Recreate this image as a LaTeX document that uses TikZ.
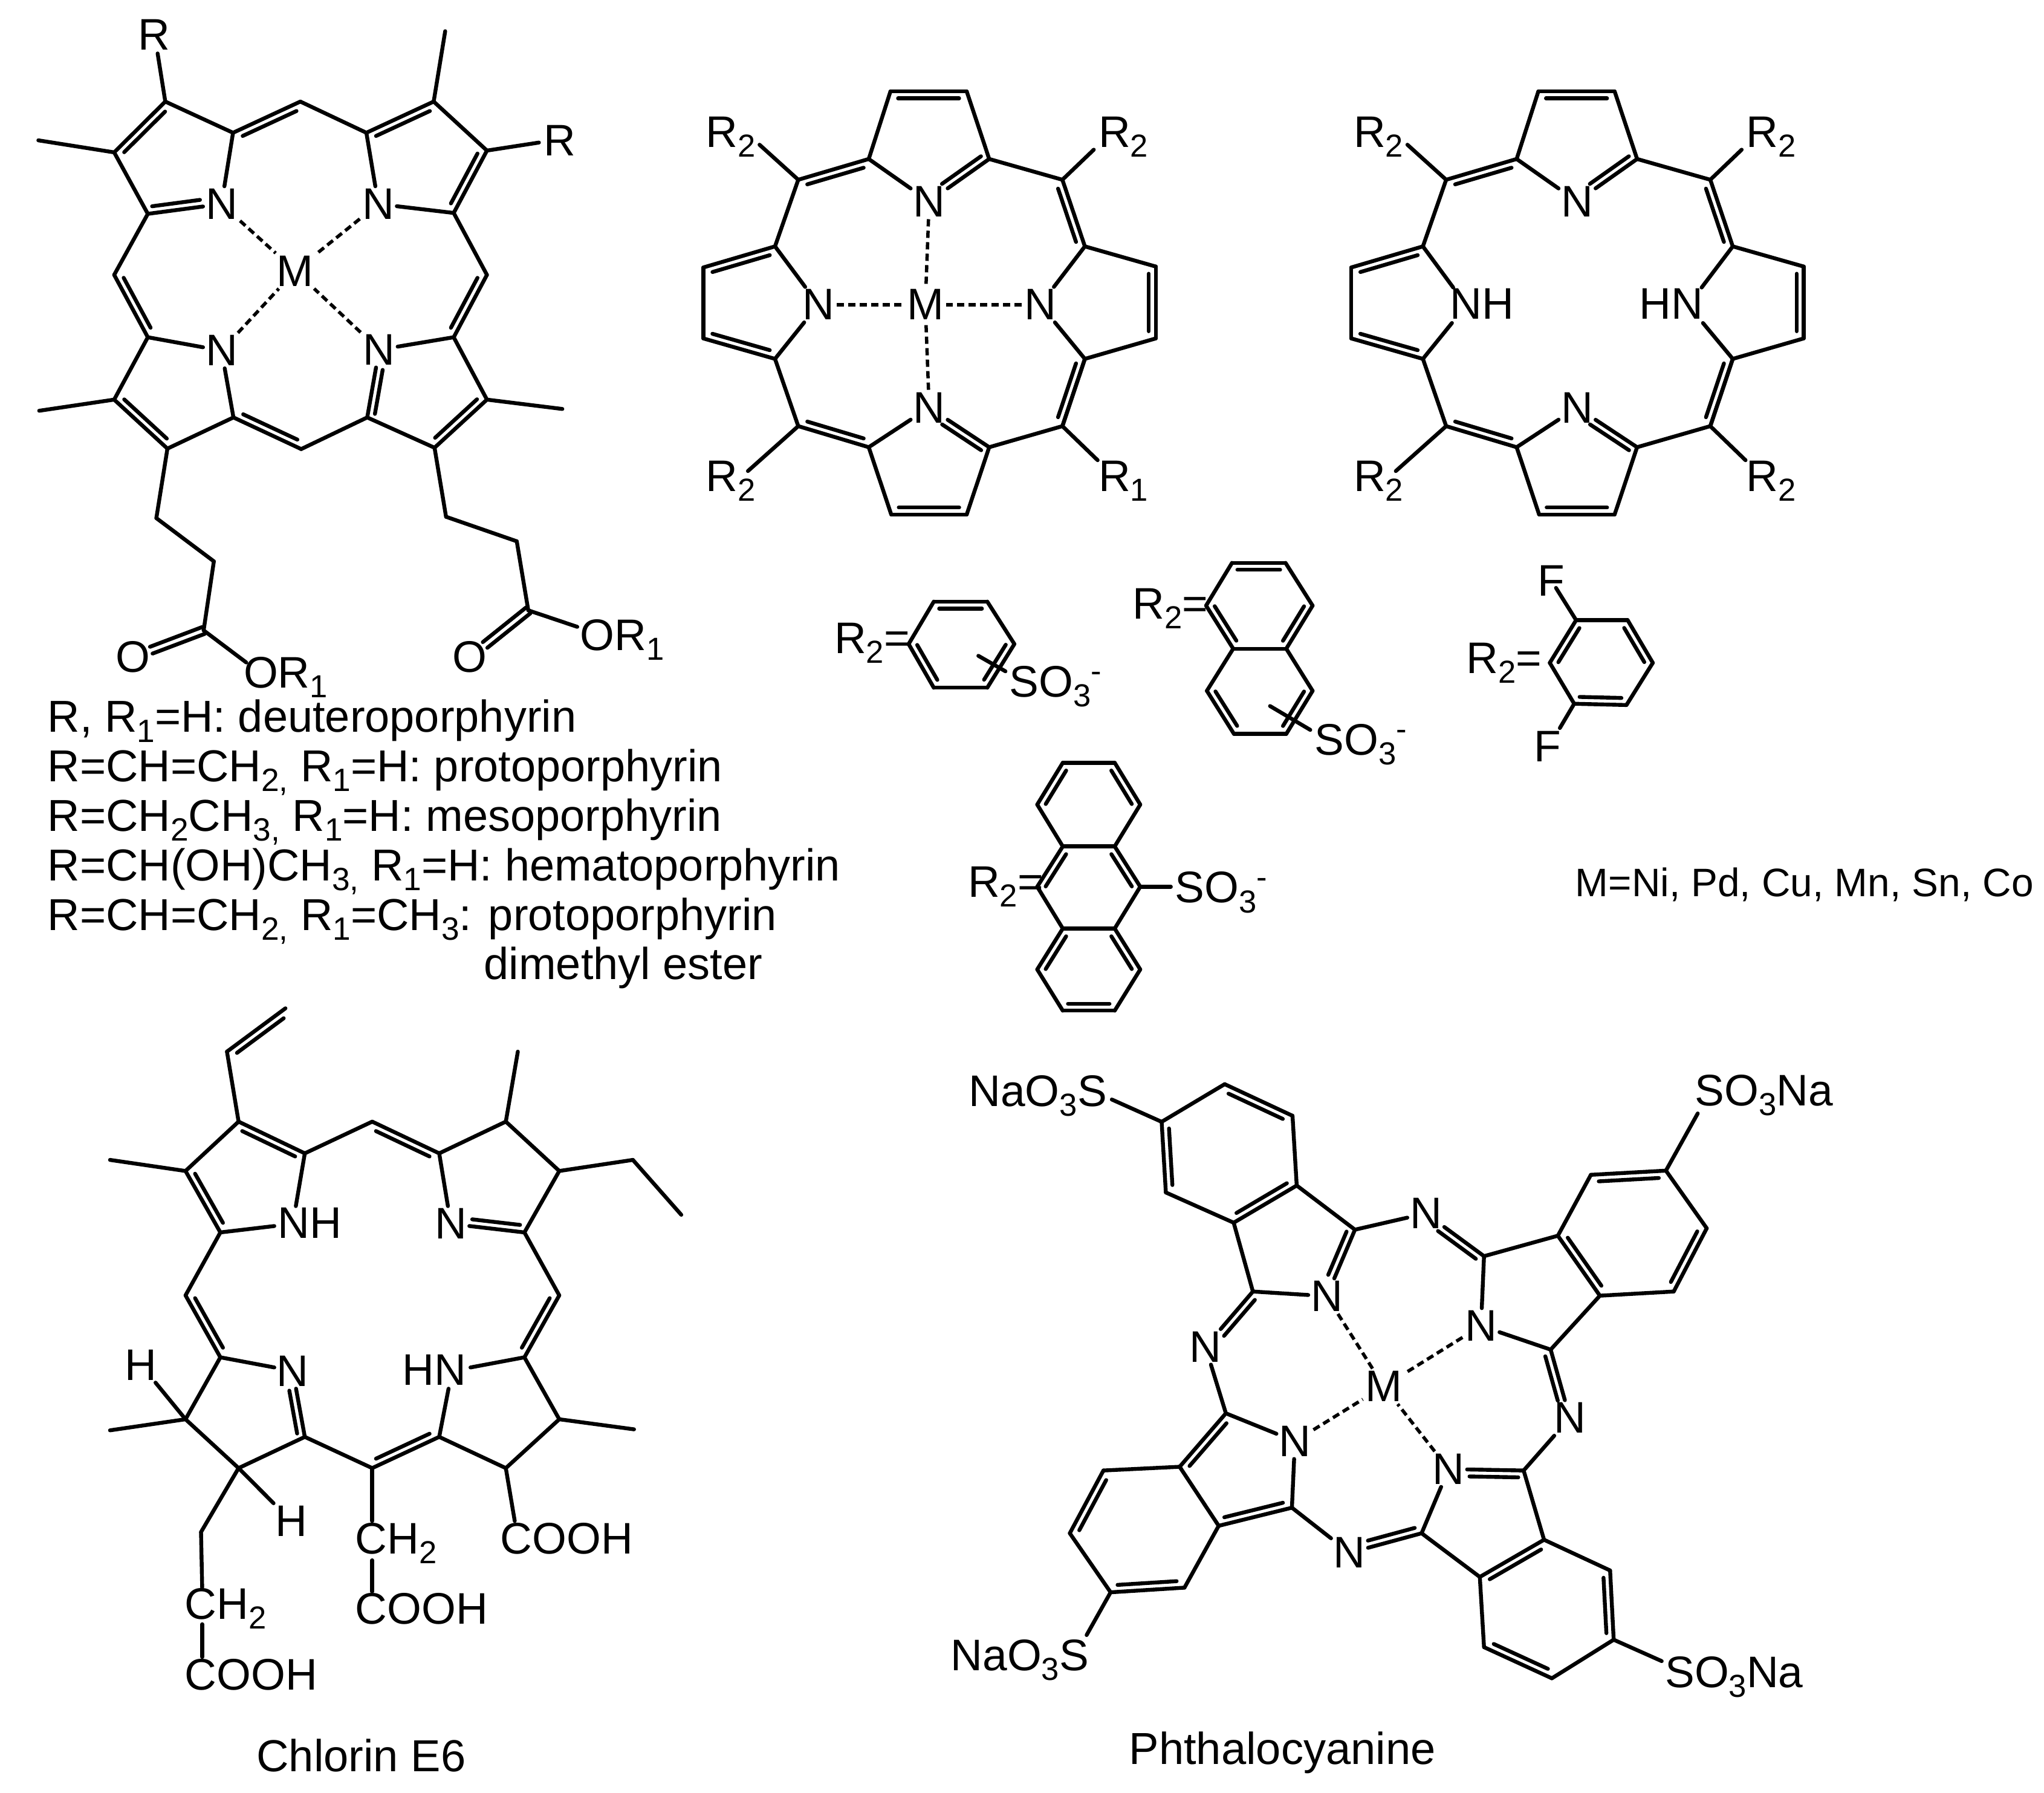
\documentclass[tikz,border=0pt]{standalone}
\usepackage{fontspec}
\usepackage{graphicx}
\setmainfont{Liberation Sans}
\usetikzlibrary{calc}
\newcommand\af{\fontsize{20.8}{24}\selectfont}
\newcommand\lsub[1]{\raisebox{-.22em}{\scalebox{.72}{#1}}}
\newcommand\lsup[1]{\raisebox{.34em}{\scalebox{.72}{#1}}}
\newcommand\dd{0.115cm}
\newcommand\hd{0.06cm}
\tikzset{
  zm/.style n args={4}{shift={(#1*0.01cm,-#2*0.01cm)},x=#3/1560*0.01cm,y=-#4/1560*0.01cm},
  bond/.style={line width=0.064cm,line cap=round,line join=round,black},
  dbond/.style={line width=0.055cm,line cap=butt,dash pattern=on 0.12cm off 0.07cm,black},
  atom/.style={inner sep=0.035cm,font=\af,text=black},
  lab/.style={inner sep=0pt,anchor=base west,xshift=-0.05cm,font=\af,text=black},
  blk/.style={inner sep=0pt,anchor=base west,font=\fontsize{21.05}{25}\selectfont,text=black},
  captxt/.style={inner sep=0pt,anchor=base west,xshift=-0.05cm,font=\fontsize{21.1}{25}\selectfont,text=black}
}
\newcommand\coords[1]{\foreach \n/\x/\y in {#1} {\coordinate (\n) at (\x,\y);}}
\newcommand\sgl[1]{\foreach \a/\b in {#1} {\draw[bond] (\a)--(\b);}}
\newcommand\dsh[1]{\foreach \a/\b in {#1} {\draw[dbond] (\a)--(\b);}}
% double bond, inner line on the left (dl) or right (dr) of the travel a->b
\newcommand\dl[1]{\foreach \a/\b in {#1} {\draw[bond] (\a)--(\b);
  \draw[bond] ($(\a)!.1!(\b)!\dd!90:(\b)$)--($(\a)!.9!(\b)!\dd!90:(\b)$);}}
\newcommand\dr[1]{\foreach \a/\b in {#1} {\draw[bond] (\a)--(\b);
  \draw[bond] ($(\a)!.1!(\b)!\dd!-90:(\b)$)--($(\a)!.9!(\b)!\dd!-90:(\b)$);}}
% the same towards a hetero atom, the inner line stops before the label
\newcommand\dnl[1]{\foreach \a/\b in {#1} {\draw[bond] (\a)--(\b);
  \draw[bond] ($(\a)!.07!(\b)!\dd!90:(\b)$)--($(\a)!.72!(\b)!\dd!90:(\b)$);}}
\newcommand\dnr[1]{\foreach \a/\b in {#1} {\draw[bond] (\a)--(\b);
  \draw[bond] ($(\a)!.07!(\b)!\dd!-90:(\b)$)--($(\a)!.72!(\b)!\dd!-90:(\b)$);}}
% carbonyl: two lines on either side of the axis
\newcommand\dco[2]{\draw[bond] ($(#1)!\hd!90:(#2)$)--($(#1)!.74!(#2)!\hd!90:(#2)$);
  \draw[bond] ($(#1)!\hd!-90:(#2)$)--($(#1)!.74!(#2)!\hd!-90:(#2)$);}
% the porphine skeleton of the two upper right molecules
\newcommand\porphring[1]{
  \coords{b1/583/100,b2/780/100,b3/527/318,b4/838/318,b5/345/385,b6/1027/385,b7/285/600,b8/1085/600,
    b9/100/668,b10/1268/665,b11/100/897,b12/1268/897,b13/285/963,b14/1085/963,b15/345/1180,b16/1027/1180,
    b17/527/1248,b18/838/1248,b19/585/1465,b20/780/1465,
    e1/245/272,e2/1108/288,e3/215/1325,e4/1118/1290}
  \node[lab] (rtl) at (113,280) {R\lsub{2}};
  \node[lab] (rtr) at (1127,280) {R\lsub{2}};
  \node[lab] (rbl) at (113,1390) {R\lsub{2}};
  \node[lab] (rbr) at (1127,1390) {R\lsub{#1}};
  \sgl{b1/b3,b3/nt,b4/b2,b6/b4,b5/b7,b7/nl,nl/b13,b13/b15,b17/nb,b17/b19,b18/b20,b18/b16,b16/b14,b14/nr,nr/b8,b8/b10,b11/b9,b12/b14,b5/e1,b6/e2,b15/e3,b16/e4}
  \dr{b1/b2,b5/b3,b6/b8,b10/b12,b14/b16,b20/b19,b17/b15,b13/b11,b9/b7}
  \dnr{b4/nt}
  \dnl{b18/nb}
}
\begin{document}
\begin{tikzpicture}
\useasboundingbox (0,0) rectangle (33.81,-29.64);

%% ---- metalloporphyrin, upper left
\begin{scope}[zm={0}{0}{1100}{1150}]
  \coords{a1/388/228,a2/268/342,a3/347/480,a4/547/298,a5/705/228,a6/860/298,a7/1143/338,a8/1018/228,
    a9/1065/478,a10/1143/617,a11/1065/757,a12/1143/897,a13/1020/1005,a14/862/937,a15/707/1008,a16/548/937,
    a17/393/1007,a18/268/897,a19/347/757,a20/268/617,
    ar/370/120,am1/90/315,am2/1045/70,arr/1265/320,am3/1320/918,am4/92/922,
    s1/367/1163,s2/502/1260,s3/478/1415,s4/578/1487,
    t1/1047/1160,t2/1213/1215,t3/1240/1370,t4/1355/1407}
  \node[atom] (n1) at (520,458) {N};
  \node[atom] (n2) at (888,458) {N};
  \node[atom] (n3) at (520,787) {N};
  \node[atom] (n4) at (890,785) {N};
  \node[atom] (m) at (693,608) {M};
  \node[atom] (o1) at (312,1475) {O};
  \node[atom] (o2) at (1103,1475) {O};
  \node[lab] (rt) at (330,112) {R};
  \node[lab] (rr) at (1283,350) {R};
  \node[lab] (or1) at (578,1544) {OR\lsub{1}};
  \node[lab] (or2) at (1368,1460) {OR\lsub{1}};
  \sgl{a1/a4,a2/a3,a3/a20,a4/n1,a5/a6,a8/a7,a6/n2,n2/a9,a9/a10,a11/n4,a11/a12,a13/a14,a15/a14,a16/n3,n3/a19,a19/a18,a17/a16,
    a1/ar,a2/am1,a8/am2,a7/arr,a12/am3,a18/am4,a17/s1,s1/s2,s2/s3,s3/s4,a13/t1,t1/t2,t2/t3,t3/t4}
  \dl{a1/a2,a20/a19,a18/a17,a16/a15}
  \dr{a4/a5,a6/a8,a7/a9,a10/a11,a12/a13}
  \dnl{a3/n1}
  \dnr{a14/n4}
  \dco{s3}{o1}
  \dco{t3}{o2}
  \dsh{n1/m,n2/m,n3/m,n4/m}
\end{scope}

%% ---- text block
\node[blk] (l1) at (0.78,-12.107) {R, R\lsub{1}=H: deuteroporphyrin};
\node[blk] (l2) at (0.78,-12.92) {R=CH=CH\lsub{2,} R\lsub{1}=H: protoporphyrin};
\node[blk] (l3) at (0.78,-13.74) {R=CH\lsub{2}CH\lsub{3,} R\lsub{1}=H: mesoporphyrin};
\node[blk] (l4) at (0.78,-14.56) {R=CH(OH)CH\lsub{3,} R\lsub{1}=H: hematoporphyrin};
\node[blk] (l5) at (0.78,-15.38) {R=CH=CH\lsub{2,} R\lsub{1}=CH\lsub{3}: protoporphyrin};
\node[blk] (l6) at (8.0,-16.19) {dimethyl ester};

%% ---- metal complex, upper middle
\begin{scope}[zm={1100}{100}{1000}{800}]
  \node[atom] (nt) at (683,455) {N};
  \node[atom] (nb) at (683,1120) {N};
  \node[atom] (nl) at (397,788) {N};
  \node[atom] (nr) at (970,788) {N};
  \node[atom] (mb) at (673,788) {M};
  \porphring{1}
  \dsh{nt/mb,nl/mb,nr/mb,nb/mb}
\end{scope}

%% ---- free base, upper right
\begin{scope}[zm={2172.3}{100}{1000}{800}]
  \node[atom] (nt) at (683,455) {N};
  \node[atom] (nb) at (683,1120) {N};
  \node[atom] (nl) at (397,790) {\phantom{N}};
  \node[atom] (nr) at (970,790) {\phantom{N}};
  \node[lab] (nhl) at (362,835) {NH};
  \node[lab] (hnr) at (850,835) {HN};
  \porphring{2}
\end{scope}

%% ---- R2 substituents
\begin{scope}[zm={1350}{880}{1000}{800}]
  % benzene
  \coords{h1/305/225,h2/443/225,h3/513/362,h4/443/503,h5/305/503,h6/240/362,hx/420/400,hy/490/450}
  \node[lab] (hr) at (55,393) {R\lsub{2}=};
  \node[lab] (hs) at (507,532) {SO\lsub{3}\lsup{-}};
  \sgl{h2/h3,h4/h5,h6/h1,hx/hy}
  \dr{h1/h2,h3/h4,h5/h6}
  % naphthalene
  \coords{i1/1075/100,i2/1213/100,i3/1283/238,i4/1215/377,i5/1078/377,i6/1008/238,i7/1283/513,i8/1215/652,i9/1080/652,i10/1010/513,ix/1173/562,iy/1277/639}
  \node[lab] (ir) at (825,280) {R\lsub{2}=};
  \node[lab] (is) at (1295,720) {SO\lsub{3}\lsup{-}};
  \sgl{i2/i3,i4/i5,i6/i1,i4/i7,i8/i9,i10/i5,ix/iy}
  \dr{i1/i2,i3/i4,i5/i6,i7/i8,i9/i10}
  % anthracene
  \coords{j1/638/745,j2/772/745,j3/838/880,j4/772/1015,j5/638/1015,j6/572/880,j7/838/1145,j8/772/1280,j9/638/1280,j10/572/1145,j11/838/1412,j12/772/1545,j13/638/1545,j14/572/1412,jy/917/1145}
  \node[lab] (jr) at (400,1178) {R\lsub{2}=};
  \node[lab] (js) at (935,1197) {SO\lsub{3}\lsup{-}};
  \sgl{j1/j2,j3/j4,j4/j5,j5/j6,j7/j8,j8/j9,j9/j10,j11/j12,j13/j14,j7/jy}
  \dr{j6/j1,j2/j3,j4/j7,j10/j5,j8/j11,j14/j9,j12/j13}
\end{scope}

\begin{scope}[zm={2381}{900}{1000}{660}]
  \coords{f1/355/298,f2/488/298,f3/553/465,f4/485/630,f5/350/625,f6/287/465,fa/303/172,fb/313/720}
  \node[lab] (fr) at (78,505) {R\lsub{2}=};
  \node[atom] (ft) at (290,144) {F};
  \node[atom] (fd) at (282,792) {F};
  \sgl{f1/f2,f3/f4,f5/f6,f1/fa,f5/fb}
  \dr{f6/f1,f2/f3,f4/f5}
  \node[inner sep=0pt,anchor=base west,font=\fontsize{18.7}{22}\selectfont] (mlist) at (352,1380) {M=Ni, Pd, Cu, Mn, Sn, Co};
\end{scope}

%% ---- chlorin e6
\begin{scope}[zm={150}{1650}{1000}{1300}]
  \coords{v2/503/22,v1/352/108,c1/382/247,c2/245/345,m1/50/323,c3/335/467,c4/553/310,c5/727/247,c6/900/310,
    c7/1072/247,m2/1103/108,c8/1210/345,et1/1400/323,et2/1525/432,c9/1120/467,c10/1210/592,c11/1120/715,
    c12/1210/838,m3/1403/858,c13/1072/935,c14/900/873,c15/727/935,c16/553/873,c17/335/715,c18/245/592,
    c19/245/838,m4/50/860,c20/382/935,g1/285/1062,g2/288/1172,g3/288/1245,g4/288/1310,
    k1/727/1040,k2/727/1118,k3/727/1180,q1/1095/1040}
  \node[atom] (cn1) at (522,450) {\phantom{N}};
  \node[atom] (cn2) at (930,450) {N};
  \node[atom] (cn3) at (522,742) {N};
  \node[atom] (cn4) at (933,742) {\phantom{N}};
  \node[lab] (cnh) at (490,478) {NH};
  \node[lab] (chn) at (812,770) {HN};
  \node[atom] (h1) at (130,730) {H};
  \node[atom] (h2) at (518,1040) {H};
  \node[lab] (ch1) at (250,1235) {CH\lsub{2}};
  \node[lab] (ch2) at (690,1105) {CH\lsub{2}};
  \node[lab] (co1) at (250,1375) {COOH};
  \node[lab] (co2) at (690,1245) {COOH};
  \node[lab] (co3) at (1065,1105) {COOH};
  \node[captxt] (chlorin) at (435,1538) {Chlorin E6};
  \sgl{v1/c1,c1/c2,c2/m1,c3/cn1,c4/cn1,c4/c5,c6/cn2,c6/c7,c7/m2,c7/c8,c8/et1,et1/et2,c8/c9,c9/c10,c11/cn4,c11/c12,c12/m3,c12/c13,c13/c14,c14/cn4,c15/c16,c16/c20,c20/c19,c19/c17,c17/cn3,c3/c18,c19/m4,c19/h1,c20/h2,c20/g1,g1/g2,g3/g4,c15/k1,k2/k3,c13/q1}
  \dl{c2/c3,c18/c17}
  \dr{v1/v2,c1/c4,c5/c6,c10/c11,c14/c15}
  \dnr{c9/cn2}
  \dnl{c16/cn3}
\end{scope}

%% ---- phthalocyanine
\begin{scope}[zm={1550}{1750}{1550}{1200}]
  \coords{p1/480/57,p2/593/125,p3/600/275,p4/495/355,p5/382/290,p6/375/138,p7/697/370,p8/527/503,p9/912/427,p10/482/765,
    p11/1035/383,p12/1105/512,p13/1228/503,p14/1283/367,p15/1215/243,p16/1090/252,p17/1023/628,p18/978/888,
    p19/808/1023,p20/905/1117,p21/1012/1037,p22/1122/1103,p23/1128/1252,p24/1025/1335,p25/912/1268,
    p26/592/968,p27/470/1007,p28/405/880,p29/278/888,p30/222/1023,p31/290/1150,p32/413/1140,
    sa/292/90,sb/1268/120,sc/250/1242,sd/1208/1298}
  \node[atom] (pn1) at (650,513) {N};
  \node[atom] (pn2) at (907,577) {N};
  \node[atom] (pn3) at (853,885) {N};
  \node[atom] (pn4) at (597,825) {N};
  \node[atom] (pnt) at (815,335) {N};
  \node[atom] (pnl) at (448,622) {N};
  \node[atom] (pnr) at (1055,775) {N};
  \node[atom] (pnb) at (688,1065) {N};
  \node[atom] (pm) at (745,707) {M};
  \node[lab] (la) at (58,105) {NaO\lsub{3}S};
  \node[lab] (lb) at (1268,103) {SO\lsub{3}Na};
  \node[lab] (lc) at (28,1318) {NaO\lsub{3}S};
  \node[lab] (ld) at (1218,1355) {SO\lsub{3}Na};
  \node[captxt] (phthalo) at (325,1520) {Phthalocyanine};
  \sgl{p1/p6,p2/p3,p3/p7,p4/p5,p4/p8,p8/pn1,p7/pnt,p9/pn2,p9/p11,p11/p16,p15/p14,p13/p12,p12/p17,p17/pn2,
    p18/pnr,p18/p21,p21/p22,p23/p24,p25/p20,p20/p19,p19/pn3,p10/pnl,p10/pn4,pn4/p26,p26/pnb,p27/p28,p28/p29,p30/p31,p32/p27,
    p6/sa,p15/sb,p31/sc,p23/sd}
  \dl{p6/p5,p4/p3,p11/p12,p21/p20,p25/p24,p10/p28,p29/p30,p31/p32}
  \dr{p1/p2,p16/p15,p14/p13,p22/p23,p26/p27}
  \dnr{p7/pn1,p17/pnr,p19/pnb}
  \dnl{p8/pnl,p9/pnt,p18/pn3}
  \dsh{pn1/pm,pn2/pm,pn3/pm,pn4/pm}
\end{scope}
\end{tikzpicture}
\end{document}
